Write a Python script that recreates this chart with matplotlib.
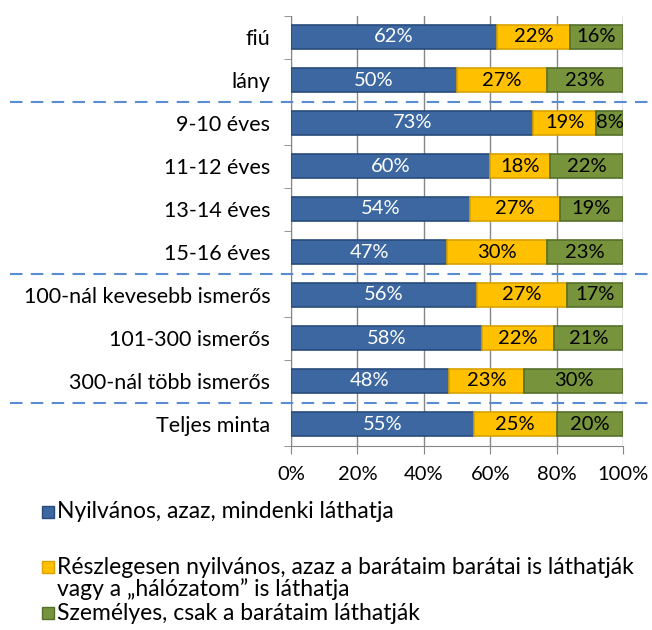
import numpy as np
import matplotlib
matplotlib.use('Agg')
import matplotlib.pyplot as plt
import matplotlib.transforms as mtransforms
from matplotlib.patches import Rectangle

categories = ["fiú", "lány", "9-10 éves", "11-12 éves", "13-14 éves", "15-16 éves",
              "100-nál kevesebb ismerős", "101-300 ismerős", "300-nál több ismerős",
              "Teljes minta"]
public = [62, 50, 73, 60, 54, 47, 56, 58, 48, 55]
partial = [22, 27, 19, 18, 27, 30, 27, 22, 23, 25]
personal = [16, 23, 8, 22, 19, 23, 17, 21, 30, 20]
series_names = ["Nyilvános, azaz, mindenki láthatja",
                "Részlegesen nyilvános, azaz a barátaim barátai is láthatják\nvagy a „hálózatom” is láthatja",
                "Személyes, csak a barátaim láthatják"]
xtick_labels = ["0%", "20%", "40%", "60%", "80%", "100%"]
separators = [1.5, 5.5, 8.5]

plt.rcParams['font.family'] = ['Lato', 'DejaVu Sans']

fills = ["#3C67A0", "#FFC000", "#77933C"]
edges = ["#274B7A", "#D9A200", "#55702A"]
text_colors = ["white", "black", "black"]

fig = plt.figure(figsize=(6.52, 6.30), dpi=100)
ax = fig.add_axes([291 / 652, 1 - 445.5 / 630, 332 / 652, 430 / 630])

data = np.array([public, partial, personal], dtype=float)
totals = data.sum(axis=0)
shares = data / totals * 100
y = np.arange(len(categories))

left = np.zeros(len(categories))
for i in range(3):
    ax.barh(y, shares[i], left=left, height=0.58, color=fills[i],
            edgecolor=edges[i], linewidth=1.2, zorder=3)
    for j in range(len(categories)):
        ax.text(left[j] + shares[i][j] / 2, y[j], f"{int(data[i][j])}%",
                ha='center', va='center', fontsize=14.5, color=text_colors[i], zorder=4)
    left += shares[i]

ax.set_xlim(0, 100)
ax.set_ylim(len(categories) - 0.5, -0.5)
ax.set_xticks(np.arange(0, 101, 20))
ax.set_xticklabels(xtick_labels, fontsize=14.5)
ax.set_yticks(y)
ax.set_yticklabels(categories, fontsize=15.5)
ax.set_yticks(np.arange(-0.5, len(categories), 1), minor=True)
ax.tick_params(axis='y', which='major', length=0, pad=15)
ax.tick_params(axis='y', which='minor', length=5, color='#868686')
ax.tick_params(axis='x', length=6, color='#868686', pad=9)
ax.grid(axis='x', color='#868686', linewidth=1, zorder=0)
for side in ['top', 'right']:
    ax.spines[side].set_visible(False)
for side in ['left', 'bottom']:
    ax.spines[side].set_color('#868686')

# dashed group separators across the whole figure width
trans = mtransforms.blended_transform_factory(fig.transFigure, ax.transData)
for s in separators:
    ax.plot([10 / 652, 1.0], [s, s], transform=trans, color='#5B8BD0',
            linestyle=(0, (6, 4)), linewidth=1.5, clip_on=False, zorder=5)

# legend
legend_y = [512, 567, 613]
for i, (name, ly) in enumerate(zip(series_names, legend_y)):
    fig.patches.append(Rectangle((42 / 652, 1 - (ly + 6) / 630), 12 / 652, 12 / 630,
                                 transform=fig.transFigure, facecolor=fills[i],
                                 edgecolor=edges[i], linewidth=1))
    for k, line in enumerate(name.split('\n')):
        fig.text(57 / 652, 1 - (ly + 22 * k) / 630, line, ha='left', va='center',
                 fontsize=16.5)

fig.savefig('out.png', dpi=100)
